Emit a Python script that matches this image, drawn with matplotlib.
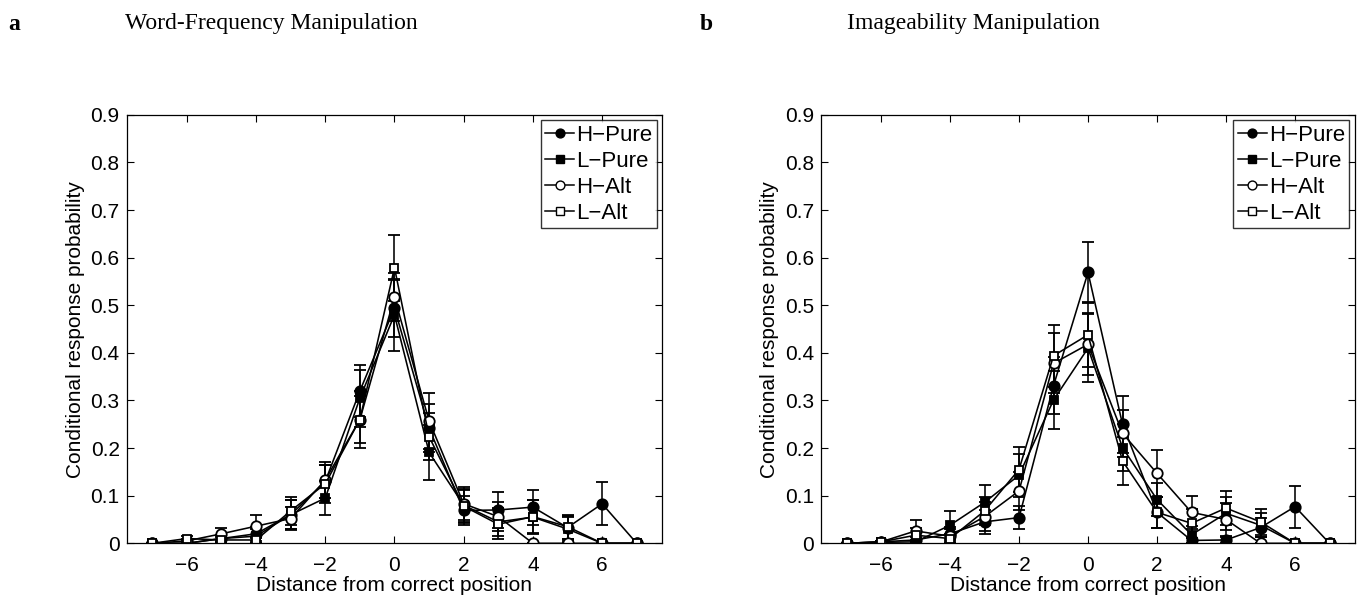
import matplotlib
matplotlib.use("Agg")
import matplotlib.pyplot as plt
from matplotlib.lines import Line2D

plt.rcParams['font.family'] = ['Liberation Sans', 'DejaVu Sans']

positions = [-7, -6, -5, -4, -3, -2, -1, 0, 1, 2, 3, 4, 5, 6, 7]
series_names = ["H\u2212Pure", "L\u2212Pure", "H\u2212Alt", "L\u2212Alt"]

# Panel a: Word-Frequency Manipulation
freq_h_pure = [0, 0, 0.01, 0.02, 0.06, 0.13, 0.32, 0.494, 0.242, 0.069, 0.07, 0.076, 0.033, 0.083, 0]
freq_l_pure = [0, 0, 0.01, 0.015, 0.06, 0.095, 0.305, 0.48, 0.191, 0.08, 0.045, 0.055, 0.03, 0, 0]
freq_h_alt = [0, 0.005, 0.02, 0.036, 0.052, 0.133, 0.26, 0.517, 0.257, 0.083, 0.056, 0, 0, 0, 0]
freq_l_alt = [0, 0.01, 0.007, 0.007, 0.068, 0.125, 0.26, 0.579, 0.224, 0.078, 0.04, 0.056, 0.035, 0, 0]

freq_h_pure_err = [0, 0, 0.008, 0.015, 0.03, 0.035, 0.055, 0.06, 0.05, 0.03, 0.037, 0.037, 0.025, 0.045, 0]
freq_l_pure_err = [0, 0, 0.008, 0.015, 0.03, 0.035, 0.06, 0.075, 0.057, 0.035, 0.03, 0.035, 0.025, 0, 0]
freq_h_alt_err = [0, 0.004, 0.013, 0.024, 0.025, 0.037, 0.06, 0.05, 0.058, 0.035, 0.03, 0, 0, 0, 0]
freq_l_alt_err = [0, 0.006, 0.006, 0.006, 0.03, 0.04, 0.05, 0.069, 0.05, 0.035, 0.032, 0.035, 0.025, 0, 0]

# Panel b: Imageability Manipulation
img_h_pure = [0, 0.003, 0.007, 0.02, 0.045, 0.054, 0.331, 0.569, 0.25, 0.065, 0.006, 0.007, 0.033, 0.077, 0]
img_l_pure = [0, 0.002, 0.003, 0.038, 0.086, 0.143, 0.301, 0.41, 0.201, 0.092, 0.018, 0.063, 0.038, 0, 0]
img_h_alt = [0, 0.003, 0.026, 0.015, 0.056, 0.11, 0.378, 0.418, 0.231, 0.147, 0.065, 0.05, 0, 0, 0]
img_l_alt = [0, 0.003, 0.017, 0.01, 0.068, 0.155, 0.394, 0.438, 0.173, 0.065, 0.042, 0.074, 0.045, 0, 0]

img_h_pure_err = [0, 0.002, 0.006, 0.015, 0.025, 0.024, 0.06, 0.065, 0.06, 0.033, 0.006, 0.007, 0.02, 0.044, 0]
img_l_pure_err = [0, 0.002, 0.003, 0.029, 0.037, 0.045, 0.061, 0.072, 0.05, 0.035, 0.018, 0.035, 0.025, 0, 0]
img_h_alt_err = [0, 0.002, 0.022, 0.015, 0.03, 0.04, 0.063, 0.065, 0.05, 0.049, 0.035, 0.035, 0, 0, 0]
img_l_alt_err = [0, 0.002, 0.015, 0.01, 0.03, 0.048, 0.065, 0.068, 0.05, 0.033, 0.03, 0.036, 0.028, 0, 0]

panel_titles = ["Word-Frequency Manipulation", "Imageability Manipulation"]
panel_letters = ["a", "b"]
xlabel = "Distance from correct position"
ylabel = "Conditional response probability"
xticks = [-6, -4, -2, 0, 2, 4, 6]
yticks = [0, 0.1, 0.2, 0.3, 0.4, 0.5, 0.6, 0.7, 0.8, 0.9]
ytick_labels = ["0", "0.1", "0.2", "0.3", "0.4", "0.5", "0.6", "0.7", "0.8", "0.9"]

panels = [
    ([freq_h_pure, freq_l_pure, freq_h_alt, freq_l_alt],
     [freq_h_pure_err, freq_l_pure_err, freq_h_alt_err, freq_l_alt_err]),
    ([img_h_pure, img_l_pure, img_h_alt, img_l_alt],
     [img_h_pure_err, img_l_pure_err, img_h_alt_err, img_l_alt_err]),
]

styles = [
    dict(marker='o', mfc='black', ms=7.5),
    dict(marker='s', mfc='black', ms=6),
    dict(marker='o', mfc='white', ms=7.5),
    dict(marker='s', mfc='white', ms=6),
]

fig = plt.figure(figsize=(13.69, 6.0), dpi=100)
ax_rects = [[0.0925, 0.0945, 0.3913, 0.714], [0.5997, 0.0945, 0.3901, 0.714]]
title_x = [0.198, 0.711]
letter_x = [0.006, 0.511]

for k, (vals, errs) in enumerate(panels):
    ax = fig.add_axes(ax_rects[k])
    for name, v, e, st in zip(series_names, vals, errs, styles):
        ax.errorbar(positions, v, yerr=e, color='black', lw=1.15,
                    marker=st['marker'], mfc=st['mfc'], mec='black',
                    ms=st['ms'], mew=1.3, capsize=4, elinewidth=1.15,
                    capthick=1.15, label=name)
    ax.set_xlim(-7.74, 7.74)
    ax.set_ylim(0, 0.9)
    ax.set_xticks(xticks)
    ax.set_xticklabels([str(t).replace('-', '\u2212') for t in xticks])
    ax.set_yticks(yticks)
    ax.set_yticklabels(ytick_labels)
    ax.tick_params(direction='in', top=True, right=True, length=5, width=0.8,
                   labelsize=15)
    ax.tick_params(axis='x', pad=9)
    ax.tick_params(axis='y', pad=5)
    for s in ax.spines.values():
        s.set_linewidth(0.9)
    ax.set_xlabel(xlabel, fontsize=15, labelpad=1)
    ax.set_ylabel(ylabel, fontsize=15, labelpad=4)
    leg_handles = [Line2D([], [], color='black', lw=1.1, marker=st['marker'],
                          mfc=st['mfc'], mec='black', ms=st['ms'] * 0.85, mew=1.0)
                   for st in styles]
    leg = ax.legend(leg_handles, series_names, loc='upper right', fontsize=16,
                    frameon=True, fancybox=False, edgecolor='black',
                    borderaxespad=0.25, handlelength=1.3, handletextpad=0.1,
                    labelspacing=0.22, borderpad=0.2)
    leg.get_frame().set_linewidth(1.0)
    fig.text(title_x[k], 0.96, panel_titles[k], ha='center', va='center',
             fontsize=17, family='Liberation Serif')
    fig.text(letter_x[k], 0.96, panel_letters[k], ha='left', va='center',
             fontsize=17, family='Liberation Serif', fontweight='bold')

fig.savefig("out.png", dpi=100)
